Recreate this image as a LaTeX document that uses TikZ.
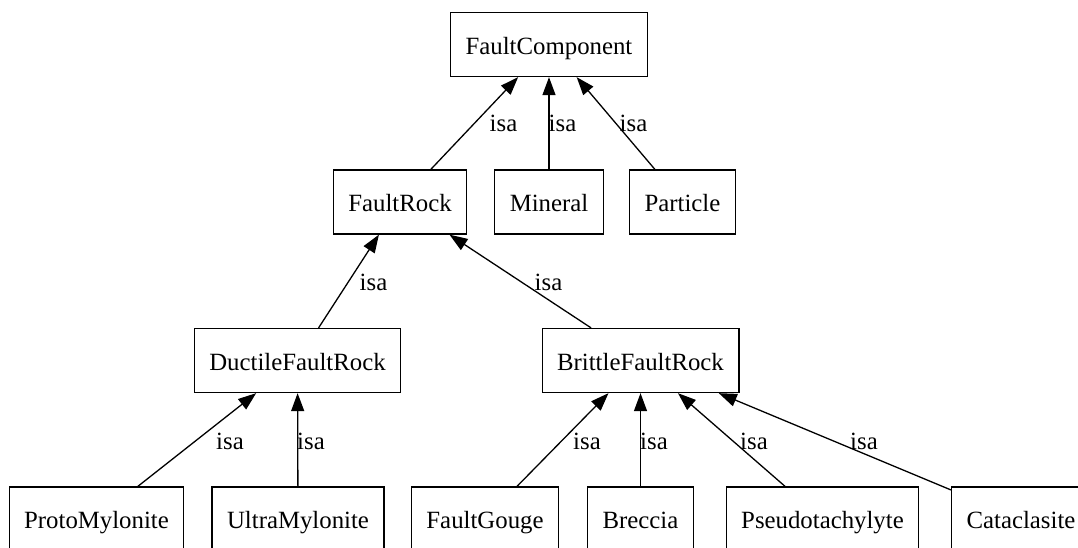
\documentclass[tikz,border=0pt]{standalone}
\usepackage{fontspec}
\setmainfont{Liberation Serif}
\usetikzlibrary{arrows.meta}

\begin{document}
\begin{tikzpicture}[x=1pt, y=-1pt,
    cls/.style={draw, line width=1.3pt, minimum height=64pt, minimum width=100pt,
        inner xsep=15pt, text height=19pt, text depth=0pt,
        font=\fontsize{24.8}{30}\selectfont},
    isa/.style={line width=1.3pt, -{Triangle[length=18pt, width=13pt]}},
    lbl/.style={inner sep=0pt, anchor=base, font=\fontsize{24.8}{30}\selectfont}]
    \useasboundingbox (0,0) rectangle (1078,547);
    \clip (0,0) rectangle (1078,547);
    \fill[white] (0,0) rectangle (1078,547);

    % Root class
    \node[cls] (fc) at (549,44.5) {FaultComponent};

    % Second level
    \node[cls] (fr) at (400,202) {FaultRock};
    \node[cls] (mineral) at (549,202) {Mineral};
    \node[cls] (particle) at (682.5,202) {Particle};

    % Ductile and brittle rocks
    \node[cls] (dfr) at (297.5,360.5) {DuctileFaultRock};
    \node[cls] (bfr) at (640.5,360.5) {BrittleFaultRock};

    % Leaf classes
    \node[cls] (proto) at (96.5,519) {ProtoMylonite};
    \node[cls] (ultra) at (298,519) {UltraMylonite};
    \node[cls] (gouge) at (485,519) {FaultGouge};
    \node[cls] (breccia) at (640.5,519) {Breccia};
    \node[cls] (pseudo) at (822.5,519) {Pseudotachylyte};
    \node[cls] (cata) at (1021,519) {Cataclasite};

    % isa links
    \draw[isa] (fr) -- (fc);
    \draw[isa] (mineral) -- (fc);
    \draw[isa] (particle) -- (fc);
    \draw[isa] (dfr) -- (fr);
    \draw[isa] (bfr) -- (fr);
    \draw[isa] (proto) -- (dfr);
    \draw[isa] (ultra) -- (dfr);
    \draw[isa] (gouge) -- (bfr);
    \draw[isa] (breccia) -- (bfr);
    \draw[isa] (pseudo) -- (bfr);
    \draw[isa] (cata) -- (bfr);

    % Link labels
    \node[lbl] (lfr) at (503.5,131.5) {isa};
    \node[lbl] (lmineral) at (562.5,131.5) {isa};
    \node[lbl] (lparticle) at (633.5,131.5) {isa};
    \node[lbl] (ldfr) at (373.5,290) {isa};
    \node[lbl] (lbfr) at (548.5,290) {isa};
    \node[lbl] (lproto) at (230,449) {isa};
    \node[lbl] (lultra) at (311,449) {isa};
    \node[lbl] (lgouge) at (587,449) {isa};
    \node[lbl] (lbreccia) at (654,449) {isa};
    \node[lbl] (lpseudo) at (754,449) {isa};
    \node[lbl] (lcata) at (864,449) {isa};
\end{tikzpicture}
\end{document}
